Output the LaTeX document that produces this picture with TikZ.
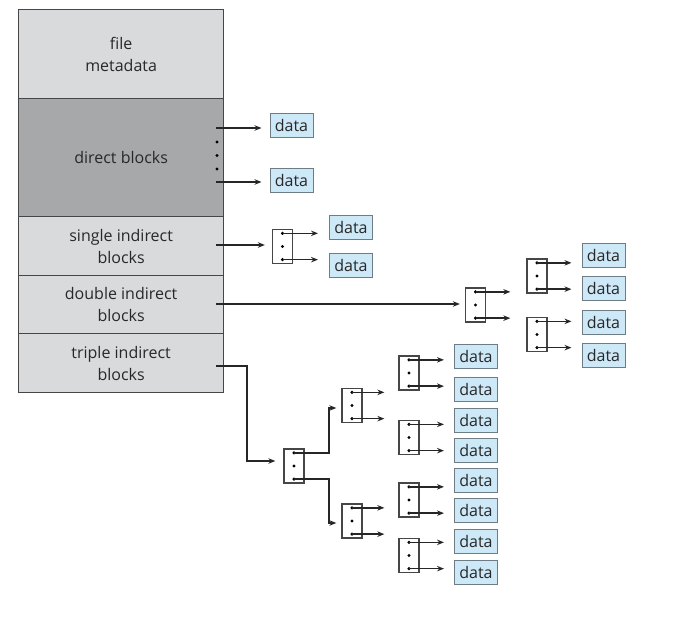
\documentclass[tikz,border=0pt]{standalone}
\usepackage{fontspec}
\setmainfont{Open Sans}
\usetikzlibrary{arrows.meta,calc}
\definecolor{lgray}{RGB}{217,218,220}
\definecolor{dgray}{RGB}{167,168,170}
\definecolor{dblue}{RGB}{205,232,247}
\definecolor{dborder}{RGB}{110,124,134}
\definecolor{ink}{RGB}{40,40,40}
\definecolor{edge}{RGB}{70,70,70}
\newcommand{\ptrblk}[3]{%
  \node[ptr] (#1) at (#2,#3) {};
  \coordinate (#1-t) at ([yshift=-4.5pt]#1.north);
  \coordinate (#1-m) at (#1.center);
  \coordinate (#1-b) at ([yshift=4.5pt]#1.south);
  \foreach \p in {t,m,b} \fill[black] (#1-\p) circle[radius=1.7pt];
}
\begin{document}
\begin{tikzpicture}[x=1pt,y=-1pt,
  every node/.style={font=\fontsize{16}{22}\selectfont, text=ink},
  seg/.style={draw=edge, line width=1.3pt, minimum width=205pt, inner sep=0pt,
    align=center, anchor=north west},
  datab/.style={draw=dborder, fill=dblue, line width=1pt, minimum width=43pt,
    minimum height=24pt, inner sep=0pt},
  ptr/.style={draw=edge, fill=white, line width=1.3pt, minimum width=20pt,
    minimum height=34pt, inner sep=0pt},
  arr/.style={draw=black!85, line width=1.4pt, -{Stealth[length=7pt,width=5.5pt]}},
  dotc/.style={fill=black}]
\useasboundingbox (0,0) rectangle (675,632);
\fill[white] (0,0) rectangle (675,632);

% inode column
\node[seg, fill=lgray, minimum height=89pt]  (meta)   at (18,9)   {file\\metadata};
\node[seg, fill=dgray, minimum height=118pt] (direct) at (18,98)  {direct blocks};
\node[seg, fill=lgray, minimum height=59pt]  (single) at (18,216) {single indirect\\blocks};
\node[seg, fill=lgray, minimum height=58pt]  (double) at (18,275) {double indirect\\blocks};
\node[seg, fill=lgray, minimum height=59pt]  (triple) at (18,333) {triple indirect\\blocks};

% direct blocks
\coordinate (dA) at (216,128);
\coordinate (dB) at (216,182);
\fill[dotc] (217,142) circle[radius=1.7pt];
\fill[dotc] (217,155.5) circle[radius=1.7pt];
\fill[dotc] (217,169) circle[radius=1.7pt];
\node[datab] (dd1) at (291.5,125.5) {data};
\node[datab] (dd2) at (291.5,180.5) {data};
\draw[arr] (dA) -- ([xshift=-8pt]dd1.west |- dA);
\draw[arr] (dB) -- ([xshift=-8pt]dd2.west |- dB);

% single indirect
\coordinate (sA) at (216,245);
\ptrblk{s1}{282.5}{246.5}
\node[datab] (sd1) at (351,227.5) {data};
\node[datab] (sd2) at (351,265) {data};
\draw[arr] (sA) -- ([xshift=-7pt]s1.west |- sA);
\draw[arr] (s1-t) -- ([xshift=-11pt]sd1.west |- s1-t);
\draw[arr] (s1-b) -- ([xshift=-11pt]sd2.west |- s1-b);

% double indirect
\coordinate (bA) at (216,304);
\ptrblk{b1}{475.5}{305}
\ptrblk{b2}{537}{276}
\ptrblk{b3}{537}{334.5}
\node[datab] (bd1) at (603.5,255) {data};
\node[datab] (bd2) at (603.5,288.5) {data};
\node[datab] (bd3) at (603.5,322.5) {data};
\node[datab] (bd4) at (603.5,355.5) {data};
\draw[arr] (bA) -- ([xshift=-5pt]b1.west |- bA);
\draw[arr] (b1-t) -- ([xshift=-16pt]b2.west |- b1-t);
\draw[arr] (b1-b) -- ([xshift=-16pt]b3.west |- b1-b);
\draw[arr] (b2-t) -- ([xshift=-10pt]bd1.west |- b2-t);
\draw[arr] (b2-b) -- ([xshift=-10pt]bd2.west |- b2-b);
\draw[arr] (b3-t) -- ([xshift=-10pt]bd3.west |- b3-t);
\draw[arr] (b3-b) -- ([xshift=-10pt]bd4.west |- b3-b);

% triple indirect
\coordinate (tA) at (216,366);
\coordinate (tK) at (247,366);
\coordinate (tJ) at (247,461);
\ptrblk{t1}{294}{466}
\ptrblk{t2}{352}{405.5}
\ptrblk{t3}{352}{521}
\ptrblk{u1}{409}{373}
\ptrblk{u2}{409}{437.5}
\ptrblk{u3}{409}{500}
\ptrblk{u4}{409}{555.5}
\coordinate (tUp) at (329,408);
\coordinate (tDn) at (329,523);
\node[datab] (td1) at (476,356) {data};
\node[datab] (td2) at (476,389) {data};
\node[datab] (td3) at (476,420) {data};
\node[datab] (td4) at (476,450) {data};
\node[datab] (td5) at (476,480) {data};
\node[datab] (td6) at (476,510) {data};
\node[datab] (td7) at (476,541) {data};
\node[datab] (td8) at (476,572) {data};
\draw[arr] (tA) -- (tK) -- (tJ) -- ([xshift=-8pt]t1.west |- tJ);
\draw[arr] (t1-t) -- (tUp |- t1-t) -- (tUp) -- ([xshift=-5pt]t2.west |- tUp);
\draw[arr] (t1-b) -- (tDn |- t1-b) -- (tDn) -- ([xshift=-5pt]t3.west |- tDn);
\draw[arr] (t2-t) -- ([xshift=-14pt]u1.west |- t2-t);
\draw[arr] (t2-b) -- ([xshift=-14pt]u2.west |- t2-b);
\draw[arr] (t3-t) -- ([xshift=-14pt]u3.west |- t3-t);
\draw[arr] (t3-b) -- ([xshift=-14pt]u4.west |- t3-b);
\draw[arr] (u1-t) -- ([xshift=-10pt]td1.west |- u1-t);
\draw[arr] (u1-b) -- ([xshift=-10pt]td2.west |- u1-b);
\draw[arr] (u2-t) -- ([xshift=-10pt]td3.west |- u2-t);
\draw[arr] (u2-b) -- ([xshift=-10pt]td4.west |- u2-b);
\draw[arr] (u3-t) -- ([xshift=-10pt]td5.west |- u3-t);
\draw[arr] (u3-b) -- ([xshift=-10pt]td6.west |- u3-b);
\draw[arr] (u4-t) -- ([xshift=-10pt]td7.west |- u4-t);
\draw[arr] (u4-b) -- ([xshift=-10pt]td8.west |- u4-b);
\end{tikzpicture}
\end{document}
